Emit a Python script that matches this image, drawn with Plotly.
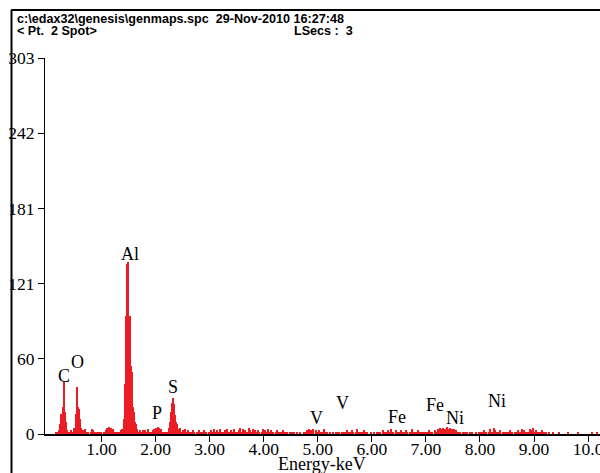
import plotly.graph_objects as go

# ---------------- data ----------------
CHANNEL_START_KEV = 0.0
CHANNEL_WIDTH_KEV = 0.02

# counts per 0.02 keV channel, 0.00 ... 10.20 keV (rows of 0.5 keV)
counts = [
    0, 0, 0, 0, 0, 0, 0, 0, 1, 0, 2, 3, 8, 16, 22, 43, 18, 10, 3, 1, 2, 1, 3, 1, 2,          # 0.00
    5, 16, 38, 22, 20, 12, 5, 2, 3, 1, 4, 2, 1, 2, 0, 1, 4, 3, 1, 1, 0, 1, 0, 1, 0,          # 0.50
    1, 0, 1, 2, 3, 5, 2, 6, 3, 5, 2, 4, 1, 2, 1, 2, 1, 2, 3, 4, 3, 12, 40, 95, 137,          # 1.00
    139, 95, 55, 50, 22, 18, 10, 8, 4, 2, 1, 3, 2, 3, 1, 3, 2, 1, 4, 2, 1, 2, 1, 3, 4,      # 1.50
    5, 4, 6, 5, 3, 4, 2, 1, 0, 1, 0, 2, 5, 10, 18, 25, 29, 24, 15, 10, 8, 4, 3, 5, 2,        # 2.00
    3, 1, 4, 2, 0, 3, 1, 2, 0, 1, 3, 1, 0, 2, 1, 3, 0, 1, 2, 0, 3, 1, 2, 0, 1,               # 2.50
    1, 3, 2, 0, 4, 1, 2, 3, 0, 1, 4, 2, 1, 0, 3, 2, 4, 1, 0, 2, 3, 1, 0, 4, 2,               # 3.00
    2, 0, 3, 5, 1, 2, 4, 0, 3, 1, 2, 5, 3, 0, 1, 4, 2, 3, 0, 1, 3, 2, 0, 2, 4,               # 3.50
    1, 3, 0, 2, 4, 1, 0, 3, 2, 1, 0, 2, 3, 1, 0, 1, 2, 0, 3, 1, 0, 2, 1, 0, 1,               # 4.00
    0, 1, 0, 2, 0, 0, 1, 0, 0, 1, 0, 0, 2, 0, 1, 3, 0, 4, 2, 3, 1, 4, 0, 3, 2,               # 4.50
    1, 3, 0, 2, 1, 0, 4, 1, 0, 2, 0, 1, 0, 0, 1, 0, 0, 1, 0, 2, 1, 0, 1, 0, 2,               # 5.00
    0, 1, 3, 0, 2, 1, 0, 3, 1, 0, 2, 4, 0, 1, 0, 2, 1, 0, 3, 0, 1, 2, 0, 0, 1,               # 5.50
    0, 0, 1, 0, 0, 1, 0, 2, 1, 0, 3, 1, 2, 0, 1, 3, 0, 2, 4, 1, 2, 0, 3, 1, 2,               # 6.00
    0, 1, 3, 0, 1, 2, 0, 3, 1, 0, 2, 1, 4, 0, 1, 2, 0, 1, 3, 0, 2, 1, 0, 2, 1,               # 6.50
    2, 0, 1, 3, 0, 2, 1, 0, 3, 1, 2, 4, 3, 5, 4, 3, 5, 2, 4, 3, 6, 4, 5, 3, 4,               # 7.00
    3, 4, 2, 3, 1, 0, 2, 1, 0, 1, 0, 2, 0, 1, 0, 0, 1, 0, 1, 0, 0, 1, 0, 0, 1,               # 7.50
    0, 2, 1, 0, 3, 1, 2, 0, 1, 4, 2, 0, 1, 5, 3, 1, 0, 2, 1, 3, 0, 1, 2, 0, 1,               # 8.00
    2, 0, 1, 3, 0, 1, 0, 2, 1, 0, 3, 1, 0, 2, 4, 1, 3, 0, 2, 1, 0, 4, 3, 2, 5,               # 8.50
    2, 0, 3, 1, 0, 2, 1, 3, 0, 1, 0, 2, 0, 0, 1, 0, 0, 0, 1, 0, 0, 0, 0, 1, 0,               # 9.00
    0, 0, 0, 0, 0, 0, 1, 0, 0, 0, 0, 0, 0, 0, 0, 0, 2, 0, 0, 0, 0, 0, 0, 0, 0,               # 9.50
    0, 0, 0, 0, 1, 0, 0, 0, 2, 0, 0,                                                         # 10.00
]
energies = [round(CHANNEL_START_KEV + i * CHANNEL_WIDTH_KEV, 2) for i in range(len(counts))]

y_tick_values = [0, 60.6, 121.2, 181.8, 242.4, 303]
y_tick_labels = ["0", "60", "121", "181", "242", "303"]
x_tick_values = [1, 2, 3, 4, 5, 6, 7, 8, 9, 10]
x_tick_labels = ["1.00", "2.00", "3.00", "4.00", "5.00", "6.00", "7.00", "8.00", "9.00", "10.0"]

peak_labels = ["C", "O", "Al", "P", "S", "V", "V", "Fe", "Fe", "Ni", "Ni"]
peak_label_energy = [0.31, 0.56, 1.53, 2.03, 2.32, 4.97, 5.46, 6.46, 7.16, 7.53, 8.31]
peak_label_count = [47, 58, 145, 17, 38, 13, 25, 14, 23, 12.5, 27]

header_line1 = "c:\\edax32\\genesis\\genmaps.spc  29-Nov-2010 16:27:48"
header_line2_left = "< Pt.  2 Spot>"
header_line2_right = "LSecs :  3"
x_title = "Energy-keV"

# ---------------- figure ----------------
RED = "#EC1C24"
SERIF = "Liberation Serif, Times New Roman, serif"
SANS = "Liberation Sans, Arial, sans-serif"

W, H = 600, 473
L, R, T, B = 45, 0, 58, 39
plot_w = W - L - R
plot_h = H - T - B


def px_x(px):
    return (px - L) / plot_w


def px_y(py):
    return (H - B - py) / plot_h


fig = go.Figure()
fig.add_trace(go.Bar(
    x=energies, y=counts, width=CHANNEL_WIDTH_KEV,
    marker=dict(color=RED, line=dict(width=0)),
    hoverinfo="x+y", showlegend=False,
))

annotations = []
for t, e, c in zip(peak_labels, peak_label_energy, peak_label_count):
    annotations.append(dict(
        x=e, y=c, xref="x", yref="y", text=t, showarrow=False,
        font=dict(family=SERIF, size=18, color="black"),
        xanchor="center", yanchor="middle",
    ))

annotations.append(dict(
    x=px_x(322), y=px_y(464), xref="paper", yref="paper", text=x_title,
    showarrow=False, font=dict(family=SERIF, size=18, color="black"),
    xanchor="center", yanchor="middle",
))
HDR = 12.6
annotations.append(dict(
    x=px_x(15), y=px_y(19), xref="paper", yref="paper", text="<b>" + header_line1 + "</b>",
    showarrow=False, font=dict(family=SANS, size=HDR, color="black"),
    xanchor="left", yanchor="middle",
))
annotations.append(dict(
    x=px_x(15), y=px_y(31.5), xref="paper", yref="paper", text="<b>" + header_line2_left + "</b>",
    showarrow=False, font=dict(family=SANS, size=HDR, color="black"),
    xanchor="left", yanchor="middle",
))
annotations.append(dict(
    x=px_x(355), y=px_y(31.5), xref="paper", yref="paper", text="<b>" + header_line2_right + "</b>",
    showarrow=False, font=dict(family=SANS, size=HDR, color="black"),
    xanchor="right", yanchor="middle",
))

shapes = [
    dict(type="line", xref="paper", yref="paper", x0=px_x(11), x1=px_x(600), y0=px_y(10), y1=px_y(10),
         line=dict(color="black", width=2)),
    dict(type="line", xref="paper", yref="paper", x0=px_x(11.5), x1=px_x(11.5), y0=px_y(10), y1=px_y(473),
         line=dict(color="black", width=2)),
]

fig.update_layout(
    width=W, height=H,
    margin=dict(l=L, r=R, t=T, b=B, pad=0),
    paper_bgcolor="white", plot_bgcolor="white",
    bargap=0,
    annotations=annotations,
    shapes=shapes,
    showlegend=False,
    xaxis=dict(
        range=[-0.045, 10.22], showgrid=False, zeroline=False, automargin=False,
        showline=True, linecolor="black", linewidth=2,
        ticks="outside", ticklen=6, tickwidth=1.2, tickcolor="black",
        tickmode="array", tickvals=x_tick_values, ticktext=x_tick_labels,
        tickfont=dict(family=SERIF, size=17.5, color="black"),
        ticklabelstandoff=-8, ticklabeloverflow="allow",
    ),
    yaxis=dict(
        range=[0, 303], showgrid=False, zeroline=False, automargin=False,
        showline=True, linecolor="black", linewidth=1.2,
        ticks="outside", ticklen=6, tickwidth=1.2, tickcolor="black",
        tickmode="array", tickvals=y_tick_values, ticktext=y_tick_labels,
        tickfont=dict(family=SERIF, size=17.5, color="black"),
        ticklabeloverflow="allow",
    ),
)

fig.write_html(
    "out.html",
    config={"displayModeBar": False},
    post_script="document.body.style.margin='0';document.body.style.padding='0';document.body.style.overflow='hidden';",
)
